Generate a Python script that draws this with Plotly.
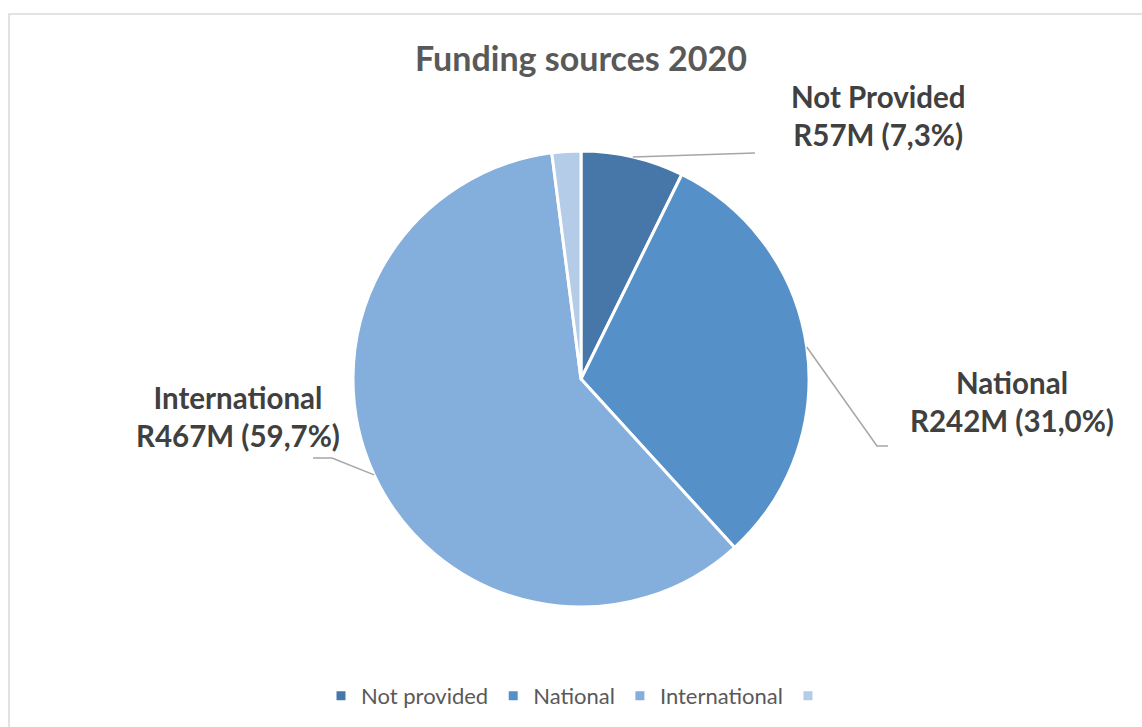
import math
import plotly.graph_objects as go

# Funding sources (R millions)
categories = ["Not provided", "National", "International", " "]
values = [57, 242, 467, 16]
label_names = ["Not Provided", "National", "International"]
label_texts = ["R57M (7,3%)", "R242M (31,0%)", "R467M (59,7%)"]
colors = ["#4677A8", "#5591C8", "#84AEDC", "#B5CCE8"]

W, H = 1142, 727
CX, CY, R = 581, 379, 228  # pie centre / radius in pixels

def px(x):
    return x / W

def py(y):
    return (H - y) / H

fig = go.Figure(
    go.Pie(
        labels=categories,
        values=values,
        sort=False,
        direction="clockwise",
        rotation=0,
        marker=dict(colors=colors, line=dict(color="white", width=3)),
        textinfo="none",
        hoverinfo="label+value+percent",
        domain=dict(x=[px(CX - R), px(CX + R)], y=[py(CY + R), py(CY - R)]),
        showlegend=True,
    )
)

# Label boxes and elbow points for the leader lines
label_pos = [(878, 115), (1012, 401), (238, 416)]
elbows = [[(755, 153)], [(877, 446), (888, 446)], [(332, 458), (313, 458)]]

total = sum(values)
cum = 0
shapes = []
annotations = []
for i, name in enumerate(label_names):
    frac_mid = (cum + values[i] / 2) / total
    cum += values[i]
    ang = 2 * math.pi * frac_mid
    sx = CX + R * math.sin(ang)
    sy = CY - R * math.cos(ang)
    pts = [(sx, sy)] + elbows[i]
    path = "M " + " L ".join(f"{px(x)},{py(y)}" for x, y in pts)
    shapes.append(dict(type="path", xref="paper", yref="paper", path=path,
                       line=dict(color="#A6A6A6", width=1.5)))
    lx, ly = label_pos[i]
    annotations.append(dict(
        x=px(lx), y=py(ly), xref="paper", yref="paper",
        text=f"<b>{name}</b><br><b>{label_texts[i]}</b>",
        showarrow=False, align="center", xanchor="center", yanchor="middle",
        font=dict(family="Lato", size=29.5, color="#404040"),
    ))

# Chart frame
shapes.append(dict(type="rect", xref="paper", yref="paper",
                   x0=px(9), x1=px(W + 5), y0=py(H + 5), y1=py(14),
                   line=dict(color="#D9D9D9", width=1.5), fillcolor="rgba(0,0,0,0)"))

fig.update_layout(
    width=W, height=H,
    margin=dict(l=0, r=0, t=0, b=0),
    paper_bgcolor="white",
    plot_bgcolor="white",
    title=dict(text="<b>Funding sources 2020</b>", x=px(581), xanchor="center",
               y=py(59), yanchor="middle",
               font=dict(family="Lato", size=34, color="#595959")),
    legend=dict(orientation="h", x=px(580), xanchor="center", y=py(696), yanchor="middle",
                font=dict(family="Lato", size=22, color="#595959"),
                traceorder="normal"),
    shapes=shapes,
    annotations=annotations,
)

fig.write_html("out.html")
